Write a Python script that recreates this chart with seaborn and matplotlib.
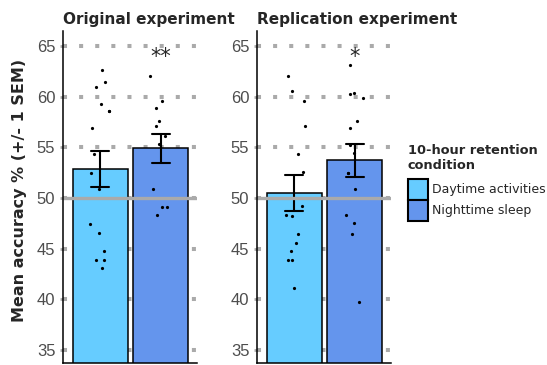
import numpy as np
import pandas as pd
import seaborn as sns
import matplotlib
import matplotlib.pyplot as plt
from matplotlib.patches import Patch

matplotlib.use('Agg')

experiments = ["Original experiment", "Replication experiment"]
conditions = ["Daytime activities", "Nighttime sleep"]
stars = ["**", "*"]

# individual participant accuracies (%)
orig_day = [62.6, 61.4, 61.0, 59.3, 58.6, 58.6, 56.9, 54.3, 52.5, 50.9, 47.4, 46.5, 44.8, 43.9, 43.9, 43.1]
orig_night = [62.0, 59.6, 58.9, 57.6, 57.1, 56.1, 55.3, 50.9, 49.1, 49.1, 48.3]
rep_day = [62.0, 60.6, 59.6, 57.1, 54.3, 52.6, 49.2, 48.2, 48.3, 46.4, 45.6, 44.8, 43.9, 43.9, 41.1]
rep_night = [63.1, 60.3, 60.4, 59.9, 57.6, 56.9, 55.2, 54.4, 52.5, 52.5, 50.9, 48.3, 47.5, 46.4, 39.7]

y_ticks = [35, 40, 45, 50, 55, 60, 65]
chance = 50

colors = {"Daytime activities": "#66CCFF", "Nighttime sleep": "#6495ED"}

rows = []
for exp, day, night in zip(experiments, [orig_day, rep_day], [orig_night, rep_night]):
	for cond, vals in zip(conditions, [day, night]):
		for v in vals:
			rows.append((exp, cond, v))
df = pd.DataFrame(rows, columns=["experiment", "condition", "accuracy"])

sns.set_style("white")
plt.rcParams['font.family'] = ['DejaVu Sans']
np.random.seed(3)

fig = plt.figure(figsize=(5.47, 3.65), dpi=100)
lefts = [63 / 547, 257 / 547]

for i, exp in enumerate(experiments):
	ax = fig.add_axes([lefts[i], 2 / 365, 134 / 547, 332 / 365])
	sub = df[df.experiment == exp]

	sns.barplot(
		data=sub, x="condition", y="accuracy", hue="condition",
		order=conditions, hue_order=conditions, palette=colors, saturation=1,
		errorbar=("se", 1), capsize=0.3,
		err_kws={"color": "black", "linewidth": 1.5},
		edgecolor="black", linewidth=1.1, width=0.91, legend=False, ax=ax
	)
	sns.stripplot(
		data=sub, x="condition", y="accuracy", order=conditions,
		color="black", size=2.3, jitter=0.18, ax=ax, zorder=4
	)
	ax.axhline(chance, color="#aaaaaa", lw=2.4, zorder=2.5)

	ax.set_xlim(-0.62, 1.6)
	ax.set_ylim(33.72, 66.48)
	ax.set_yticks(y_ticks)
	ax.yaxis.grid(True, color="#aaaaaa", linewidth=2.9, linestyle=(0, (1, 3)))
	ax.set_axisbelow(True)

	sns.despine(ax=ax)
	for side in ["left", "bottom"]:
		ax.spines[side].set_color("black")
		ax.spines[side].set_linewidth(1.1)

	ax.tick_params(axis="x", labelbottom=False, length=0)
	ax.tick_params(axis="y", length=2.5, width=2, color="#aaaaaa",
				   labelsize=12, labelcolor="#4d4d4d", pad=3, left=True)
	for lbl in ax.get_yticklabels():
		lbl.set_fontfamily("Liberation Sans")

	ax.set_xlabel("")
	ax.set_title(exp, loc="left", fontsize=11, fontweight="bold", pad=5)
	ax.text(1, 63.3, stars[i], ha="center", va="baseline", fontsize=15)

	if i == 0:
		ax.set_ylabel("Mean accuracy % (+/- 1 SEM)", fontsize=11.5, fontweight="bold")
		ax.yaxis.set_label_coords(-0.27, 0.52)
	else:
		ax.set_ylabel("")

handles = [Patch(facecolor=colors[c], edgecolor="black", linewidth=1.5, label=c) for c in conditions]
leg = fig.legend(
	handles=handles, title="10-hour retention\ncondition",
	loc="upper left", bbox_to_anchor=(408 / 547, 1 - 144 / 365),
	frameon=False, fontsize=9,
	title_fontproperties={"weight": "bold", "size": 9.3},
	handlelength=1.6, handleheight=2.2, labelspacing=0,
	handletextpad=0.3, borderpad=0, borderaxespad=0, alignment="left"
)
leg._legend_box.sep = 5

fig.savefig("out.png", dpi=100)
